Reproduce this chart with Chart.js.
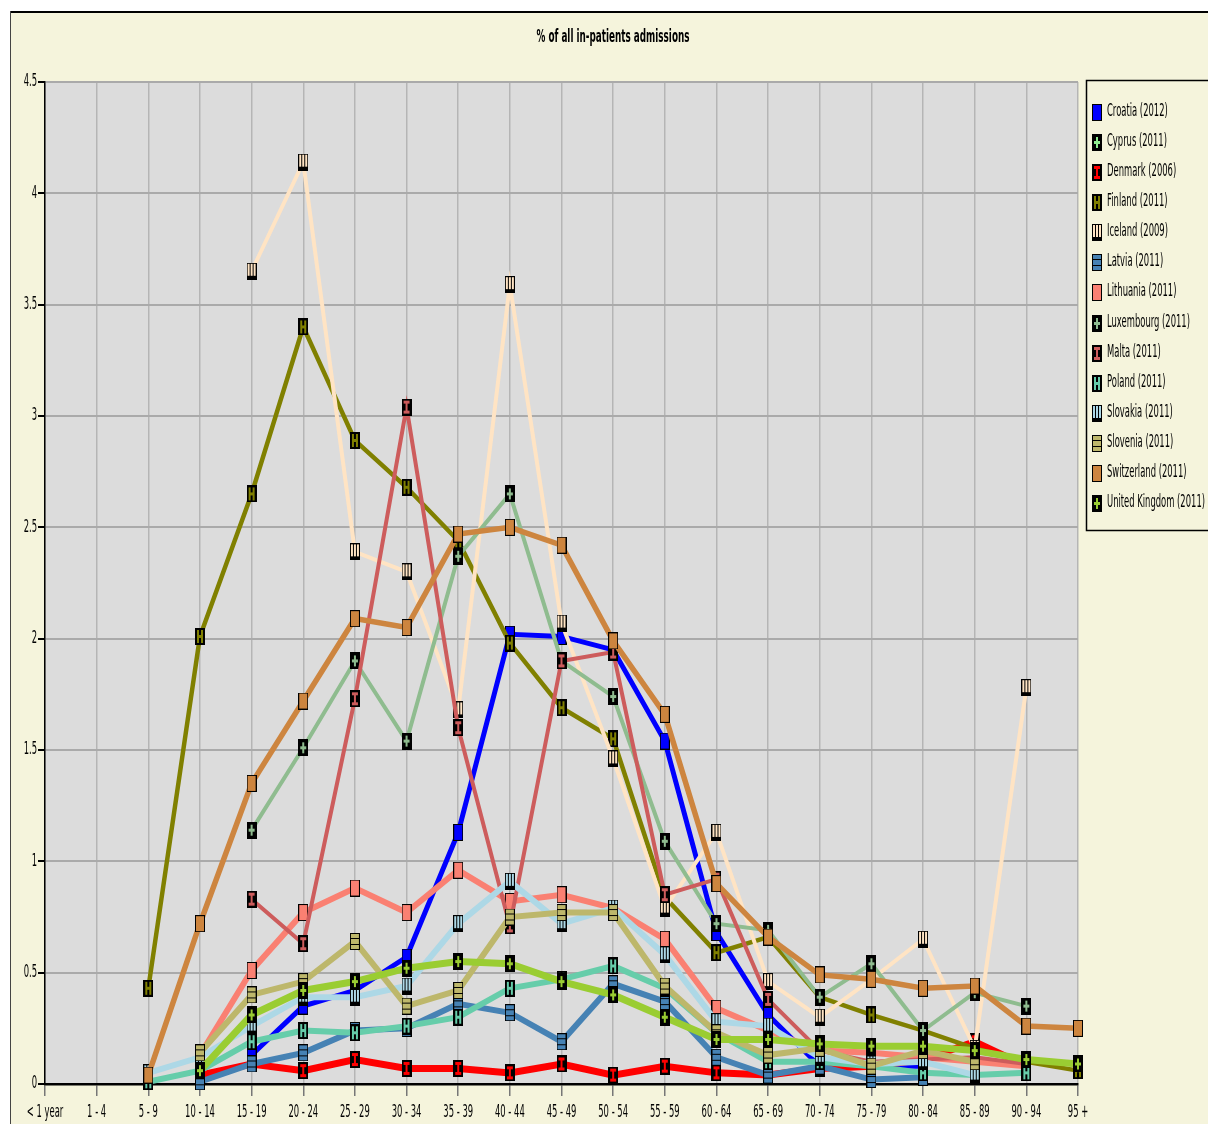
<!DOCTYPE html>
<html>
<head>
<meta charset="utf-8">
<script src="https://cdn.jsdelivr.net/npm/chart.js@4.4.1/dist/chart.umd.min.js"></script>
<style>
  html, body { margin: 0; padding: 0; background: #fff; }
  canvas { display: block; }
</style>
</head>
<body>
<canvas id="chart" width="1208" height="1124"></canvas>
<script>
const titleText = '% of all in-patients admissions';

const ageGroups = ['< 1 year', '1 - 4', '5 - 9', '10 - 14', '15 - 19', '20 - 24', '25 - 29', '30 - 34',
    '35 - 39', '40 - 44', '45 - 49', '50 - 54', '55 - 59', '60 - 64', '65 - 69', '70 - 74',
    '75 - 79', '80 - 84', '85 - 89', '90 - 94', '95 +'];

const countries = ['Croatia (2012)', 'Cyprus (2011)', 'Denmark (2006)', 'Finland (2011)', 'Iceland (2009)',
    'Latvia (2011)', 'Lithuania (2011)', 'Luxembourg (2011)', 'Malta (2011)', 'Poland (2011)',
    'Slovakia (2011)', 'Slovenia (2011)', 'Switzerland (2011)', 'United Kingdom (2011)'];

const croatia = [null, null, null, null, 0.13, 0.35, 0.42, 0.57, 1.13, 2.02, 2.01, 1.95, 1.54, 0.68, 0.31, 0.08, 0.08, 0.08, null, null, null];
const cyprus = [null, null, null, null, null, null, null, null, null, null, null, null, null, null, null, null, null, null, null, null, null];
const denmark = [null, null, null, 0.04, 0.09, 0.06, 0.11, 0.07, 0.07, 0.05, 0.09, 0.04, 0.08, 0.05, 0.04, 0.07, 0.08, 0.11, 0.19, 0.08, null];
const finland = [null, null, 0.43, 2.01, 2.65, 3.40, 2.89, 2.68, 2.44, 1.98, 1.69, 1.55, 0.84, 0.59, 0.66, 0.39, 0.31, 0.24, 0.16, 0.10, 0.06];
const iceland = [null, null, null, null, 3.65, 4.14, 2.39, 2.30, 1.68, 3.59, 2.07, 1.46, 0.79, 1.13, 0.46, 0.30, 0.47, 0.65, 0.16, 1.78, null];
const latvia = [null, null, null, 0.01, 0.09, 0.14, 0.24, 0.25, 0.36, 0.32, 0.19, 0.45, 0.37, 0.12, 0.04, 0.08, 0.02, 0.03, null, null, null];
const lithuania = [null, null, null, 0.13, 0.51, 0.77, 0.88, 0.77, 0.96, 0.82, 0.85, 0.79, 0.65, 0.34, 0.24, 0.15, 0.14, 0.12, 0.10, 0.08, null];
const luxembourg = [null, null, null, null, 1.14, 1.51, 1.90, 1.54, 2.37, 2.65, 1.90, 1.74, 1.09, 0.72, 0.69, 0.39, 0.54, 0.24, 0.41, 0.35, null];
const malta = [null, null, null, null, 0.83, 0.63, 1.73, 3.04, 1.60, 0.71, 1.90, 1.94, 0.85, 0.92, 0.38, 0.15, 0.10, 0.11, 0.12, 0.09, null];
const poland = [null, null, 0.01, 0.06, 0.19, 0.24, 0.23, 0.26, 0.30, 0.43, 0.47, 0.53, 0.43, 0.23, 0.10, 0.10, 0.08, 0.05, 0.04, 0.05, null];
const slovakia = [null, null, 0.05, 0.12, 0.26, 0.39, 0.39, 0.44, 0.72, 0.91, 0.72, 0.79, 0.58, 0.28, 0.26, 0.12, 0.09, 0.10, 0.04, null, null];
const slovenia = [null, null, null, 0.14, 0.40, 0.46, 0.64, 0.35, 0.42, 0.75, 0.77, 0.77, 0.44, 0.23, 0.13, 0.16, 0.08, 0.15, 0.10, null, null];
const switzerland = [null, null, 0.04, 0.72, 1.35, 1.72, 2.09, 2.05, 2.47, 2.50, 2.42, 1.99, 1.66, 0.90, 0.66, 0.49, 0.47, 0.43, 0.44, 0.26, 0.25];
const unitedKingdom = [null, null, null, 0.06, 0.31, 0.42, 0.46, 0.52, 0.55, 0.54, 0.46, 0.40, 0.30, 0.20, 0.20, 0.18, 0.17, 0.17, 0.15, 0.11, 0.09];

const seriesValues = [croatia, cyprus, denmark, finland, iceland, latvia, lithuania, luxembourg,
    malta, poland, slovakia, slovenia, switzerland, unitedKingdom];

// colour, marker kind, line width for each country
const styles = [
    ['#0000FF', 'solid', 5],
    ['#90EE90', 'plus', 4],
    ['#FF0000', 'I', 7],
    ['#808000', 'H', 4.5],
    ['#FFE4C4', 'vstripes', 4],
    ['#4682B4', 'hstripes', 6],
    ['#FA8072', 'solid', 6],
    ['#8FBC8F', 'plus', 4],
    ['#CD5C5C', 'I', 4],
    ['#66CDAA', 'H', 6],
    ['#ADD8E6', 'vstripes', 6],
    ['#BDB76B', 'hstripes', 6],
    ['#CD853F', 'solid', 5.5],
    ['#9ACD32', 'plus', 7]
];

function makeMarker(color, kind) {
    const c = document.createElement('canvas');
    c.width = 10;
    c.height = 17;
    const g = c.getContext('2d');
    g.fillStyle = '#000';
    g.fillRect(0, 0, 10, 17);
    g.fillStyle = color;
    if (kind === 'solid') {
        g.fillRect(1, 1, 8, 15);
    } else if (kind === 'plus') {
        g.fillRect(4, 3, 2, 11);
        g.fillRect(2, 7, 6, 3);
    } else if (kind === 'I') {
        g.fillRect(2, 2, 6, 3);
        g.fillRect(2, 12, 6, 3);
        g.fillRect(4, 4, 2, 9);
    } else if (kind === 'H') {
        g.fillRect(2, 2, 2, 13);
        g.fillRect(6, 2, 2, 13);
        g.fillRect(3, 7, 4, 3);
    } else if (kind === 'vstripes') {
        g.fillRect(1, 1, 8, 12);
        g.fillStyle = '#000';
        g.fillRect(3, 1, 1, 12);
        g.fillRect(6, 1, 1, 12);
    } else if (kind === 'hstripes') {
        g.fillRect(1, 1, 8, 15);
        g.fillStyle = '#000';
        g.fillRect(1, 5, 8, 1);
        g.fillRect(1, 11, 8, 1);
    }
    return c;
}

const markers = styles.map(s => makeMarker(s[0], s[1]));

const datasets = countries.map((name, i) => ({
    label: name,
    data: seriesValues[i],
    borderColor: styles[i][0],
    backgroundColor: styles[i][0],
    borderWidth: styles[i][2],
    pointStyle: markers[i],
    pointRadius: 5,
    tension: 0,
    spanGaps: false,
    clip: false,
    order: countries.length - i
}));

// the original uses a narrow font, so text is squeezed horizontally
const textFont = '17px "DejaVu Sans"';
const measureCtx = document.createElement('canvas').getContext('2d');
measureCtx.font = textFont;
const squeeze = 98 / measureCtx.measureText('United Kingdom (2011)').width;

function condensedText(ctx, text, x, y, font, k, align) {
    ctx.save();
    ctx.font = font;
    ctx.translate(x, y);
    ctx.scale(k, 1);
    ctx.textAlign = align;
    ctx.textBaseline = 'middle';
    ctx.fillStyle = '#000';
    ctx.fillText(text, 0, 0);
    ctx.restore();
}

const backdrop = {
    id: 'backdrop',
    beforeDraw(chart) {
        const ctx = chart.ctx;
        const a = chart.chartArea;
        ctx.save();
        ctx.fillStyle = '#fff';
        ctx.fillRect(0, 0, chart.width, chart.height);
        ctx.fillStyle = '#F5F4DC';
        ctx.fillRect(10, 12, chart.width - 10, chart.height - 12);
        ctx.fillStyle = '#000';
        ctx.fillRect(10, 11, chart.width - 10, 2);
        ctx.fillStyle = '#444';
        ctx.fillRect(10, 11, 1, chart.height - 11);
        ctx.fillStyle = '#DCDCDC';
        ctx.fillRect(a.left, a.top, a.right - a.left, a.bottom - a.top);
        ctx.font = 'bold 17px "DejaVu Sans"';
        const kt = 153 / ctx.measureText(titleText).width;
        ctx.restore();
        condensedText(ctx, titleText, 613, 38, 'bold 17px "DejaVu Sans"', kt, 'center');
    }
};

const tickText = {
    id: 'tickText',
    afterDraw(chart) {
        const ctx = chart.ctx;
        const xs = chart.scales.x;
        const ys = chart.scales.y;
        xs.ticks.forEach((t, i) => {
            condensedText(ctx, t.label, xs.getPixelForTick(i), 1113, textFont, squeeze, 'center');
        });
        ys.ticks.forEach((t, i) => {
            condensedText(ctx, t.label, 37, ys.getPixelForTick(i), textFont, squeeze, 'right');
        });
    }
};

const sideLegend = {
    id: 'sideLegend',
    afterDraw(chart) {
        const ctx = chart.ctx;
        ctx.save();
        ctx.strokeStyle = '#000';
        ctx.lineWidth = 1.5;
        ctx.strokeRect(1086.5, 80.5, 140, 450);
        ctx.restore();
        countries.forEach((name, i) => {
            const y = Math.round(112 + i * 30.08);
            const m = markers[i];
            ctx.drawImage(m, 1092, y - 8);
            condensedText(ctx, name, 1107, y, textFont, squeeze, 'left');
        });
    }
};

new Chart(document.getElementById('chart').getContext('2d'), {
    type: 'line',
    data: { labels: ageGroups, datasets: datasets },
    options: {
        responsive: false,
        animation: false,
        devicePixelRatio: 1,
        layout: { padding: { left: 10, top: 82, right: 130, bottom: 0 } },
        plugins: {
            legend: { display: false },
            title: { display: false },
            tooltip: { enabled: false }
        },
        scales: {
            x: {
                offset: false,
                afterFit(scale) { scale.height = 40; },
                grid: { color: '#B5B5B5', lineWidth: 1.5, tickLength: 12, tickColor: '#777' },
                border: { color: '#000', width: 2.5 },
                ticks: { display: false, autoSkip: false, maxRotation: 0 }
            },
            y: {
                min: 0,
                max: 4.5,
                afterFit(scale) { scale.width = 35; },
                grid: { color: '#AAAAAA', lineWidth: 2, tickLength: 7, tickColor: '#000' },
                border: { color: '#000', width: 1.5 },
                ticks: { display: false, stepSize: 0.5, callback: v => String(v) }
            }
        }
    },
    plugins: [backdrop, tickText, sideLegend]
});
</script>
</body>
</html>
